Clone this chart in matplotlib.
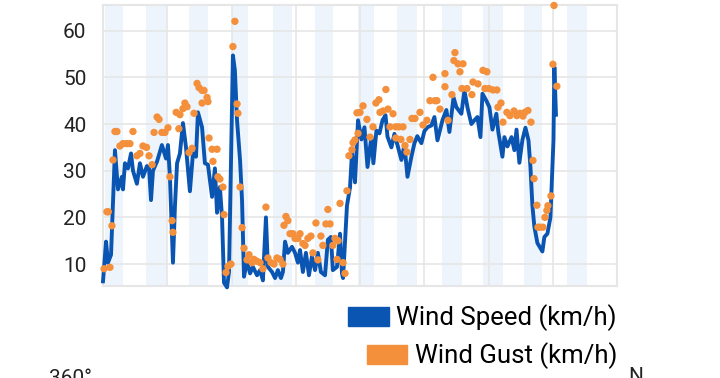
#!/usr/bin/env python3
"""
风速 / 阵风 图表复现
"""

import matplotlib
matplotlib.use('Agg')
import matplotlib.pyplot as plt
from matplotlib.patches import Patch

# 字体
plt.rcParams['font.family'] = ['Roboto', 'DejaVu Sans']

# 风速 (小时, km/h)
speed_hours = [
    0, 1.7, 2.8, 4.5, 6.7, 8.4, 10.6, 11.2, 12.3, 14, 15.7, 16.8, 19, 20.7,
    22.4, 24.6, 25.8, 26.9, 28, 30.3, 33, 35.3, 36.4, 37.5, 39.2, 40.3, 41.5,
    43.1, 44.8, 46.5, 48.7, 50.4, 52.1, 53.2, 55.5, 57.1, 58.8, 61.1, 62.7,
    63.9, 65.5, 66.7, 67.8, 69.5, 70.6, 72.8, 73.9, 75.1, 76.8, 77.9, 79,
    80.7, 82.4, 84, 86.3, 88, 89.6, 91.3, 92.4, 94.7, 96.4, 98, 99.7, 100.8,
    102, 103.6, 105.9, 107.6, 109.2, 110.4, 112, 113.7, 115.4, 117.1, 118.8,
    120.4, 122.1, 124.4, 126, 127.7, 128.8, 131.1, 132.8, 133.9, 134.5,
    136.7, 138.4, 139.5, 141.2, 142.9, 144.8, 146.5, 148.2, 150.4, 151.5,
    153.2, 154.9, 156.6, 158.3, 159.4, 161.6, 163.3, 165, 167.2, 168.9,
    170.6, 172.8, 174.5, 176.1, 178.4, 180.1, 181.8, 184, 185.7, 187.4,
    190.2, 192.4, 194.1, 196.4, 198, 200.8, 202.5, 204.2, 206.4, 208.1,
    209.8, 211.5, 212.6, 214.8, 216.5, 218.2, 220.4, 221.5, 223.8, 224.9,
    226.6, 228.9, 230.5, 231.7, 233.3, 235, 236.7, 238.4, 239.5, 240.6,
    241.7, 243.4, 246.2, 247.3, 249, 250.7, 252.4, 252.9, 253.8,
]
speed_kmh = [
    6.3, 14.8, 10.3, 12, 34.4, 26, 28.7, 26, 31.6, 30.5, 33.7, 30, 27.2, 31.6,
    28.7, 31, 30.5, 23.7, 30, 32, 35.5, 32.6, 35.5, 28.7, 10.3, 22.3, 31.6,
    33.7, 40.2, 35, 25.6, 33.7, 33, 42.5, 39.3, 31.6, 31.3, 24.4, 30.5,
    21, 26.5, 20, 6, 5, 8.3, 54.7, 51.5, 40.8, 32.2, 23.7, 7.3,
    10.7, 8, 9.4, 7.6, 8.7, 6.5, 20, 9.4, 8.3, 7, 8.7, 7, 8.3,
    14.8, 12.4, 13.7, 12.4, 10.3, 13, 8.3, 12.4, 7.6, 11.7, 8.7,
    12.4, 8.3, 7.6, 15.2, 15.8, 8.7, 9.4, 16.5, 8, 7,
    22.5, 26.4, 33.8, 27.5, 40.8, 36.7, 39.3, 30.8, 37.3, 31.6,
    38.6, 38, 40.8, 41.9, 37.3, 35, 37.9, 35.5, 32.3, 35.5,
    28.7, 33, 35.9, 37.4, 35.9, 38.5, 39.3, 39.7, 41.5, 36.5,
    40.8, 43, 38.3, 45.7, 43.6, 42.2, 47.2, 43.6, 40, 40.8,
    41.5, 37.2, 46.5, 45, 43.6, 38.8, 42.2, 38.3, 33, 37.2,
    35.2, 37.2, 34.4, 38.8, 31.7, 36.6, 39.2, 36.5, 30.8, 22.5,
    18, 14.5, 12.7, 15.8, 16.5, 20, 36.5, 52.2, 42,
]

# 阵风 (小时, km/h)
gust_hours = [
    0.6, 2.2, 3, 3.9, 5, 5.6, 6.7, 7.8, 9.5, 11.2, 13.2, 15.1, 16.8, 19, 20.7,
    22.4, 24.4, 25.8, 27.5, 28.6, 30.3, 31.4, 33, 34.7, 36.4, 37.5, 38.7,
    39.2, 41, 42.5, 43.1, 44.8, 45.9, 47.1, 48.2, 49.9, 51, 52.7, 53.8, 55.5,
    55.5, 56.6, 58.3, 58.8, 59.4, 61.1, 61.6, 63.9, 64.4, 65.5, 67.2, 67.8,
    68.9, 70, 71.7, 72.8, 73.9, 75.1, 75.6, 76.8, 77.9, 79, 80.7, 81.8, 83.5,
    84.6, 86.3, 88, 89.6, 91.3, 92.4, 94.1, 95.8, 97.5, 99.2, 100.8, 101.4,
    102.5, 103.6, 104.8, 106.4, 107.6, 109.2, 110.4, 112, 113.2, 114.8,
    116.5, 117.6, 119.3, 120.4, 122.1, 123.2, 124.9, 126, 127.2, 128.8, 130,
    131.1, 131.7, 132.8, 134.5, 135.6, 136.7, 137.8, 139.5, 140.1, 141.2,
    142.3, 142.9, 144, 145.7, 147.9, 149.6, 151.3, 152.9, 154.6, 155.2,
    156.9, 158.5, 159.7, 160.8, 162.5, 164.1, 164.1, 165.8, 166.9, 168.1,
    169.2, 170.3, 172, 173.1, 174.8, 177.6, 179.3, 181.5, 183.2, 184.9,
    186, 187.1, 188.8, 191.6, 191.6, 193.3, 195.5, 196.6, 197.2, 198.9, 200,
    201.1, 201.7, 203.9, 206.7, 207.3, 210.1, 212.9, 214, 215.1, 216.2,
    218.5, 220.7, 221.3, 223, 224.1, 226.3, 228, 230.3, 231.9, 233.6, 235.3,
    236.4, 238.1, 239.8, 240.9, 241.5, 243.1, 243.7, 244.8, 246.5, 247.6,
    248.7, 249.3, 251, 252.1, 252.7, 254.3,
]
gust_kmh = [
    9, 21.2, 21.2, 9.3, 18.2, 32.3, 38.4, 38.4, 35.3, 35.8, 35.8, 35.8, 38.4,
    33.2, 33.7, 35.3, 35, 33.2, 31.3, 38.2, 41.5, 41, 38.2, 38.2, 39.2, 28.7,
    19.3, 16.8, 42.5, 39, 42, 43.3, 44.5, 43.7, 33.9, 34.8, 42.3, 48.7, 47.8,
    47.2, 44.5, 47.2, 45.7, 44.8, 37, 34.6, 32, 34.6, 28.7, 28.2, 26.5, 20.6,
    8.2, 9.5, 10, 56.6, 62, 44.3, 42.3, 26.5, 17.8, 13.4, 10.9, 12, 10.3,
    11, 10.6, 10.3, 9, 22.2, 11.3, 10.3, 10, 11.3, 11, 10, 18.3,
    20.2, 19.3, 16.5, 16.5, 15.5, 15.5, 16.5, 14.4, 14, 15.5,
    16, 12.4, 18.8, 10.9, 16, 14, 18.6, 21.7, 18.6, 14, 15.5,
    11, 15, 23, 10.3, 8, 25.7, 33.2, 34.5, 36, 36.6,
    42.4, 38, 42.5, 43.9, 41, 37.2, 39.4, 44.5, 45.2, 42.5,
    42.8, 47.4, 43.2, 39.4, 42.2, 39.4, 37, 39.4, 36.7, 39.4,
    35.4, 34, 36.7, 41.2, 41.2, 42.5, 39.8, 40.8, 45, 50,
    45, 45, 43.2, 50.8, 48, 40.8, 46.3, 53.6, 55.3, 52.9, 51.2,
    47.6, 52.9, 47.6, 46.3, 49, 48.6, 51.5, 47.6, 51.2, 47.6,
    47.3, 47.3, 43.6, 44.5, 40.4, 42.5, 41.8, 42.8, 41.8, 42.3, 41.7,
    42.5, 42.9, 40.4, 32.2, 28.3, 22.6, 17.9, 17.9, 17.9, 20,
    21.5, 22.5, 24.6, 52.8, 65.4, 48.1,
]

# 夜间时段 (开始小时, 结束小时)
night_start = [1, 24, 48, 72, 95, 119, 143, 165, 190, 213, 236, 260]
night_end = [11, 36, 59, 81, 106, 129, 152, 176, 201, 224, 246, 271]

y_ticks = [10, 20, 30, 40, 50, 60]

SPEED_COLOR = '#0b55b2'
GUST_COLOR = '#f4903c'
GRID_COLOR = '#e6e6e6'

fig = plt.figure(figsize=(7.2, 3.78), dpi=100)
ax = fig.add_axes([103 / 720, 92 / 378, 514 / 720, 281 / 378])

for s, e in zip(night_start, night_end):
    ax.axvspan(s, e, color='#edf4fc', lw=0, zorder=0.2)

ax.plot(speed_hours, speed_kmh, color=SPEED_COLOR, lw=2.8,
        solid_joinstyle='round', clip_on=False, zorder=3)
ax.scatter(gust_hours, gust_kmh, s=28, color=GUST_COLOR, edgecolors='none',
           clip_on=False, zorder=4)

ax.set_xlim(0, 288)
ax.set_ylim(5.3, 65.5)
ax.set_xticks(range(0, 289, 36))
ax.set_yticks(y_ticks)
ax.grid(True, color=GRID_COLOR, lw=1.2)
ax.set_axisbelow(True)
ax.tick_params(length=0, labelbottom=False, labelsize=15, pad=12,
               labelcolor='#222222')
for sp in ax.spines.values():
    sp.set_color(GRID_COLOR)
    sp.set_linewidth(1.5)

# 图例 (右对齐, 各占一行)
leg_kw = dict(loc='center right', frameon=False, fontsize=18.5,
              handlelength=1.56, handleheight=0.78, handletextpad=0.31,
              borderaxespad=0, borderpad=0)
fig.legend(handles=[Patch(color=SPEED_COLOR)], labels=['Wind Speed (km/h)'],
           bbox_to_anchor=(617 / 720, 1 - 318 / 378), **leg_kw)
fig.legend(handles=[Patch(color=GUST_COLOR)], labels=['Wind Gust (km/h)'],
           bbox_to_anchor=(617 / 720, 1 - 356 / 378), **leg_kw)

# 下方风向图的残留标签
fig.text(92 / 720, 1 - 369 / 378, '360°', ha='right', va='top',
         fontsize=15, color='#222222')
fig.text(628 / 720, 1 - 367 / 378, 'N', ha='left', va='top',
         fontsize=15, color='#222222')

plt.savefig('out.png', dpi=100)
